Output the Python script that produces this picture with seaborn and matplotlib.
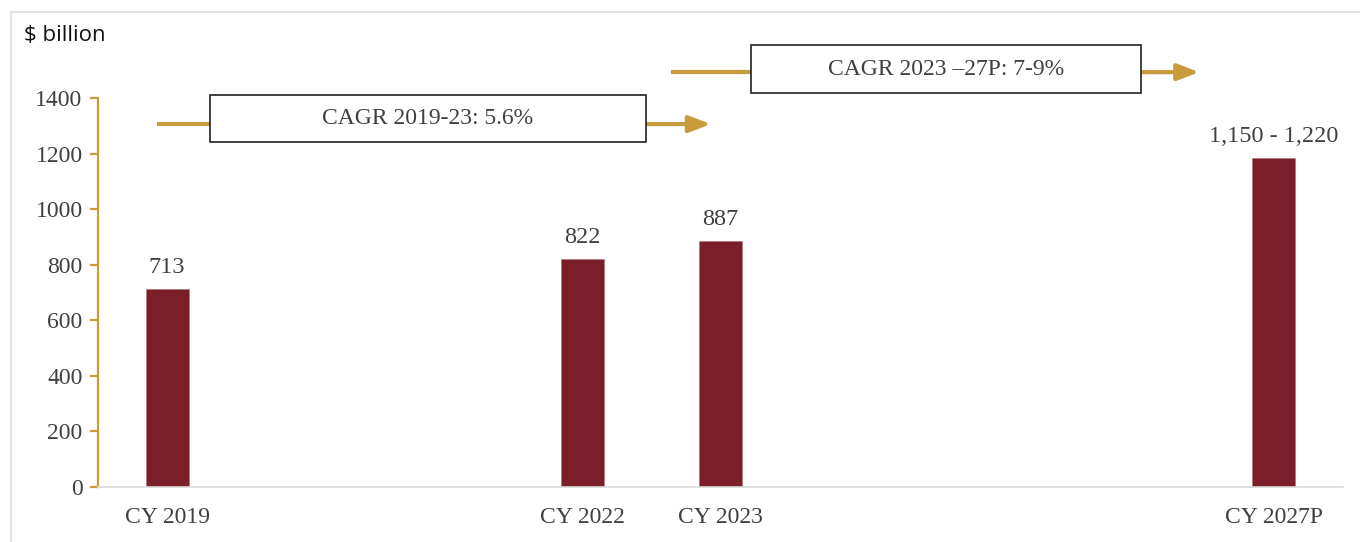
import pandas as pd
import matplotlib.pyplot as plt
import seaborn as sns
from matplotlib.lines import Line2D
from matplotlib.patches import Rectangle

# chart data
years = [2019, 2022, 2023, 2027]
values = [713, 822, 887, 1185]
tick_labels = ["CY 2019", "CY 2022", "CY 2023", "CY 2027P"]
value_labels = ["713", "822", "887", "1,150 - 1,220"]

df = pd.DataFrame({"year": years, "value": values})

bar_color = "#7A1E2A"
gold = "#C89B3C"
text_color = "#404040"
serif = ["Liberation Serif", "DejaVu Serif"]

sns.set_style("white")
fig = plt.figure(figsize=(13.6, 5.42), dpi=100)
ax = fig.add_axes([0.072, 0.1015, 0.9155, 0.7177])

sns.barplot(data=df, x="year", y="value", native_scale=True, width=0.31,
            color=bar_color, saturation=1, edgecolor="#b07a82", linewidth=0.6, ax=ax)

ax.set_xlim(2018.5, 2027.5)
ax.set_ylim(0, 1400)
ax.set_xticks(years)
ax.set_xticklabels(tick_labels, fontfamily=serif, fontsize=17, color=text_color)
ax.set_yticks(range(0, 1401, 200))
ax.set_yticklabels([str(v) for v in range(0, 1401, 200)], fontfamily=serif,
                   fontsize=17, color=text_color)
ax.set_xlabel("")
ax.set_ylabel("")

# axis styling
for side in ["top", "right"]:
    ax.spines[side].set_visible(False)
ax.spines["left"].set_color(gold)
ax.spines["left"].set_linewidth(1.6)
ax.spines["bottom"].set_color("#d9d9d9")
ax.spines["bottom"].set_linewidth(1.2)
ax.tick_params(axis="y", left=True, length=6, width=1.6, color=gold, pad=5)
ax.tick_params(axis="x", bottom=False, pad=11)

# value labels above bars
for yr, v, lab in zip(years, values, value_labels):
    ax.text(yr, v + 38, lab, ha="center", va="bottom", fontfamily=serif,
            fontsize=17.5, color=text_color)

# CAGR annotations
def cagr(x0, x1, bx0, bx1, y, by0, by1, text):
    ax.plot([x0, bx0], [y, y], color=gold, lw=3, clip_on=False, solid_capstyle="butt")
    ax.annotate("", xy=(x1, y), xytext=(bx1, y),
                arrowprops=dict(arrowstyle="-|>,head_length=1.3,head_width=0.5",
                                color=gold, lw=3, shrinkA=0, shrinkB=0),
                annotation_clip=False)
    ax.add_patch(Rectangle((bx0, by0), bx1 - bx0, by1 - by0, facecolor="white",
                           edgecolor="#222222", lw=1.2, clip_on=False, zorder=5))
    ax.text((bx0 + bx1) / 2, (by0 + by1) / 2, text, ha="center", va="center",
            fontfamily=serif, fontsize=17, color=text_color, zorder=6)

cagr(2018.93, 2022.93, 2019.31, 2022.46, 1306, 1241, 1411, "CAGR 2019-23: 5.6%")
cagr(2022.64, 2026.46, 2023.22, 2026.04, 1493, 1418, 1590, "CAGR 2023 \u201327P: 7-9%")

# unit label
fig.text(0.018, 0.935, "$ billion", fontfamily=["Open Sans", "DejaVu Sans"],
         fontsize=16, color="#111111", ha="left", va="center")

# light frame
fig.add_artist(Line2D([0.008, 0.008], [0, 0.978], color="#e3e3e3", lw=1.5))
fig.add_artist(Line2D([0.008, 1], [0.978, 0.978], color="#e3e3e3", lw=1.5))

fig.savefig("out.png", dpi=100)
